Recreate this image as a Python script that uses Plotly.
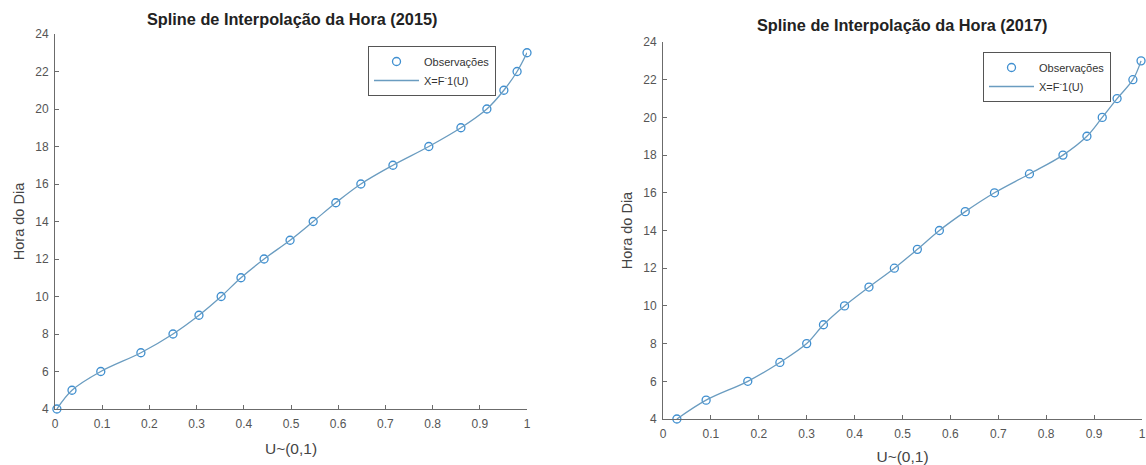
import plotly.graph_objects as go

# Data
hours = [4, 5, 6, 7, 8, 9, 10, 11, 12, 13, 14, 15, 16, 17, 18, 19, 20, 21, 22, 23]
u_2015 = [0.004, 0.036, 0.097, 0.182, 0.250, 0.305, 0.352, 0.394, 0.443, 0.498,
          0.547, 0.595, 0.648, 0.716, 0.792, 0.860, 0.915, 0.951, 0.979, 1.000]
u_2017 = [0.029, 0.090, 0.177, 0.244, 0.300, 0.335, 0.379, 0.430, 0.483, 0.531,
          0.577, 0.631, 0.692, 0.765, 0.835, 0.885, 0.917, 0.948, 0.981, 0.998]
x_ticks = [0, 0.1, 0.2, 0.3, 0.4, 0.5, 0.6, 0.7, 0.8, 0.9, 1]
x_ticklabels = ["0", "0.1", "0.2", "0.3", "0.4", "0.5", "0.6", "0.7", "0.8", "0.9", "1"]
y_ticks = [4, 6, 8, 10, 12, 14, 16, 18, 20, 22, 24]

titles = ["Spline de Interpolação da Hora (2015)", "Spline de Interpolação da Hora (2017)"]
obs_name = "Observações"
line_name = "X=F<sup>-</sup>1(U)"

MARKER_C = "#3f8fd0"
LINE_C = "#6a9cc0"
AXIS_C = "#6b6b6b"
FONT = "Liberation Sans, Arial, sans-serif"

fig = go.Figure()

datasets = [(u_2015, "x", "y", "legend"), (u_2017, "x2", "y2", "legend2")]
for u, xa, ya, lg in datasets:
    fig.add_trace(go.Scatter(x=u, y=hours, mode="markers", name=obs_name,
                             xaxis=xa, yaxis=ya, legend=lg, cliponaxis=False,
                             marker=dict(symbol="circle-open", size=8, color=MARKER_C,
                                         line=dict(width=1.3, color=MARKER_C))))
    fig.add_trace(go.Scatter(x=u, y=hours, mode="lines", name=line_name,
                             xaxis=xa, yaxis=ya, legend=lg, cliponaxis=False,
                             line=dict(shape="spline", smoothing=1.0, color=LINE_C, width=1.3)))

W, H = 1146, 465
def fx(px): return px / W
def fy(py): return 1 - py / H

TICKFONT = dict(family=FONT, size=12, color="#555555")
XTITLEFONT = dict(family=FONT, size=15.5, color="#444444")
YTITLEFONT = dict(family=FONT, size=14.5, color="#444444")
LEGFONT = dict(family=FONT, size=11, color="#333333")

axis_common = dict(showgrid=False, zeroline=False, showline=True, linecolor=AXIS_C,
                   linewidth=1, ticks="inside", ticklen=4, tickcolor=AXIS_C,
                   tickfont=TICKFONT, automargin=False)

fig.update_layout(
    width=W, height=H,
    margin=dict(l=0, r=0, t=0, b=0, autoexpand=False),
    paper_bgcolor="white", plot_bgcolor="white",
    font=dict(family=FONT, color="#333333"),
    xaxis=dict(domain=[fx(55), fx(527)], range=[0, 1], tickvals=x_ticks, ticktext=x_ticklabels,
               anchor="y", ticklabelstandoff=4,
               title=dict(text="U~(0,1)", standoff=12, font=XTITLEFONT),
               **axis_common),
    yaxis=dict(domain=[fy(409), fy(34)], range=[4, 24], tickvals=y_ticks, anchor="x",
               ticklabelstandoff=3,
               title=dict(text="Hora do Dia", standoff=7, font=YTITLEFONT),
               **axis_common),
    xaxis2=dict(domain=[fx(663), fx(1142)], range=[0, 1], tickvals=x_ticks, ticktext=x_ticklabels,
                anchor="y2", ticklabelstandoff=4,
                title=dict(text="U~(0,1)", standoff=12, font=XTITLEFONT),
                **axis_common),
    yaxis2=dict(domain=[fy(419), fy(42)], range=[4, 24], tickvals=y_ticks, anchor="x2",
                ticklabelstandoff=3,
                title=dict(text="Hora do Dia", standoff=7, font=YTITLEFONT),
                **axis_common),
    legend=dict(x=fx(368), y=fy(46), xanchor="left", yanchor="top",
                bgcolor="white", bordercolor="#555555", borderwidth=1,
                font=LEGFONT, tracegroupgap=0, itemwidth=45),
    legend2=dict(x=fx(983), y=fy(52), xanchor="left", yanchor="top",
                 bgcolor="white", bordercolor="#555555", borderwidth=1,
                 font=LEGFONT, tracegroupgap=0, itemwidth=45),
    showlegend=True,
    annotations=[
        dict(text="<b>" + titles[0] + "</b>", x=fx(292), y=fy(19), xref="paper", yref="paper",
             xanchor="center", yanchor="middle",
             showarrow=False, font=dict(family=FONT, size=16.3, color="#222222")),
        dict(text="<b>" + titles[1] + "</b>", x=fx(902), y=fy(25), xref="paper", yref="paper",
             xanchor="center", yanchor="middle",
             showarrow=False, font=dict(family=FONT, size=16.3, color="#222222")),
    ],
)

fig.write_html("out.html", config={"displayModeBar": False},
               post_script="document.body.style.margin='0px';document.body.style.overflow='hidden';")
